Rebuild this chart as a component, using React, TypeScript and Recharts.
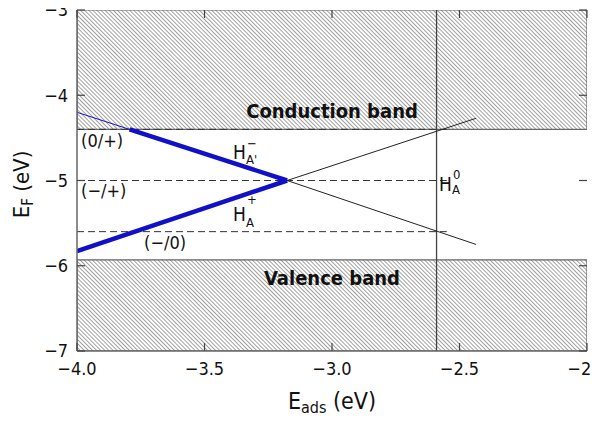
import React from 'react';
import {
  ComposedChart,
  Line,
  XAxis,
  YAxis,
  ReferenceArea,
  ReferenceLine,
  ReferenceDot,
} from 'recharts';

// ---- data ----
const xTicks = [-4, -3.5, -3, -2.5, -2];
const yTicks = [-7, -6, -5, -4, -3];
const xDomain = [-4, -2];
const yDomain = [-7, -3];
const conductionBand = [-4.4, -3];
const valenceBand = [-7, -5.93];
const transitionLevels = [-4.4, -5.0, -5.6];
const levelExtent = [-4, -2.55];
const neutralX = -2.59;

const hMinusThin = [
  { x: -4, y: -4.2 },
  { x: -3.794, y: -4.4 },
];
const hMinusThick = [
  { x: -3.794, y: -4.4 },
  { x: -3.176, y: -5.0 },
];
const hPlusThick = [
  { x: -4, y: -5.827 },
  { x: -3.176, y: -5.0 },
];
const hPlusExt = [
  { x: -3.176, y: -5.0 },
  { x: -2.435, y: -4.27 },
];
const hMinusExt = [
  { x: -3.176, y: -5.0 },
  { x: -2.435, y: -5.75 },
];

const levelLabels = [
  { x: -3.984, y: -4.607, text: '(0/+)' },
  { x: -3.984, y: -5.193, text: '(−/+)' },
  { x: -3.737, y: -5.804, text: '(−/0)' },
];
const bandLabels = [
  { x: -3.0, y: -4.267, text: 'Conduction band' },
  { x: -3.0, y: -6.226, text: 'Valence band' },
];
const hLabels = [
  { x: -3.388, y: -4.748, sup: '−', sub: "A'", supDy: -11, subDy: 5 },
  { x: -3.388, y: -5.475, sup: '+', sub: 'A', supDy: -17, subDy: 6 },
  { x: -2.58, y: -5.123, sup: '0', sub: 'A', supDy: -12, subDy: 3 },
];

const FONT = "'DejaVu Sans Condensed', 'DejaVu Sans', sans-serif";
const INK = '#111';
const FRAME = '#666';
const TICK_LEN = 8;

const fmtX = (v: number) => v.toFixed(1).replace('-', '−');
const fmtY = (v: number) => String(v).replace('-', '−');

const levelSeries = transitionLevels.map((lv) => [
  { x: levelExtent[0], y: lv },
  { x: levelExtent[1], y: lv },
]);

// inward tick marks on all four sides
const tickMarks = [
  ...xTicks.map((v) => ({ x: v, y: yDomain[0], dx: 0, dy: -1 })),
  ...xTicks.map((v) => ({ x: v, y: yDomain[1], dx: 0, dy: 1 })),
  ...yTicks.map((v) => ({ x: xDomain[0], y: v, dx: 1, dy: 0 })),
  ...yTicks.map((v) => ({ x: xDomain[1], y: v, dx: -1, dy: 0 })),
];

const XLabel = (props: any) => {
  const vb = props.viewBox || {};
  const cx = vb.x + vb.width / 2;
  return (
    <text x={cx} y={vb.y + 58} textAnchor="middle" fontFamily={FONT} fontSize={23} fill={INK}>
      E
      <tspan fontSize={16} dy={4}>ads</tspan>
      <tspan dy={-4}> (eV)</tspan>
    </text>
  );
};

const YLabel = (props: any) => {
  const vb = props.viewBox || {};
  const cy = vb.y + vb.height / 2;
  return (
    <text
      x={0}
      y={0}
      transform={`translate(21, ${cy + 4}) rotate(-90)`}
      textAnchor="middle"
      fontFamily={FONT}
      fontSize={22}
      fill={INK}
    >
      E
      <tspan fontSize={15} dy={4}>F</tspan>
      <tspan dy={-4}> (eV)</tspan>
    </text>
  );
};

const lineCommon = {
  dataKey: 'y',
  dot: false,
  activeDot: false,
  isAnimationActive: false,
  legendType: 'none' as const,
};

export default function App() {
  return (
    <div style={{ marginTop: -8 }}>
      <ComposedChart
        width={600}
        height={421}
        margin={{ top: 10, right: 21, bottom: 0, left: 0 }}
        style={{ fontFamily: FONT }}
      >
        <defs>
          <pattern
            id="hatch"
            patternUnits="userSpaceOnUse"
            width={2.9}
            height={2.9}
            patternTransform="rotate(-45)"
          >
            <rect width={2.9} height={2.9} fill="#fff" />
            <line x1={0} y1={0} x2={0} y2={2.9} stroke="#444" strokeWidth={1} />
          </pattern>
        </defs>
        <XAxis
          xAxisId={0}
          type="number"
          dataKey="x"
          domain={xDomain}
          ticks={xTicks}
          interval={0}
          tickFormatter={fmtX}
          allowDataOverflow
          height={70}
          tickSize={0}
          tickMargin={11}
          tickLine={false}
          stroke={FRAME}
          strokeWidth={1.5}
          tick={{ fill: INK, fontSize: 18, fontFamily: FONT }}
          label={<XLabel />}
        />
        <XAxis
          xAxisId="top"
          orientation="top"
          type="number"
          dataKey="x"
          domain={xDomain}
          ticks={xTicks}
          allowDataOverflow
          height={0}
          tickLine={false}
          tick={false}
          stroke={FRAME}
          strokeWidth={1.5}
        />
        <YAxis
          yAxisId={0}
          type="number"
          dataKey="y"
          domain={yDomain}
          ticks={yTicks}
          interval={0}
          tickFormatter={fmtY}
          allowDataOverflow
          width={69}
          tickSize={0}
          tickMargin={9}
          tickLine={false}
          stroke={FRAME}
          strokeWidth={1.5}
          tick={{ fill: INK, fontSize: 18, fontFamily: FONT }}
          label={<YLabel />}
        />
        <YAxis
          yAxisId="right"
          orientation="right"
          type="number"
          dataKey="y"
          domain={yDomain}
          ticks={yTicks}
          allowDataOverflow
          width={0}
          tickLine={false}
          tick={false}
          stroke={FRAME}
          strokeWidth={1.5}
        />

        <ReferenceArea
          y1={conductionBand[0]}
          y2={conductionBand[1]}
          x1={xDomain[0]}
          x2={xDomain[1]}
          fill="url(#hatch)"
          fillOpacity={1}
          stroke={FRAME}
          strokeWidth={1.2}
          ifOverflow="hidden"
        />
        <ReferenceArea
          y1={valenceBand[0]}
          y2={valenceBand[1]}
          x1={xDomain[0]}
          x2={xDomain[1]}
          fill="url(#hatch)"
          fillOpacity={1}
          stroke={FRAME}
          strokeWidth={1.2}
          ifOverflow="hidden"
        />

        {levelSeries.map((d, i) => (
          <Line key={'lv' + i} data={d} {...lineCommon} stroke="#333" strokeWidth={1} strokeDasharray="7 4" />
        ))}

        <ReferenceLine x={neutralX} stroke="#444" strokeWidth={1.3} />

        <Line data={hPlusExt} {...lineCommon} stroke="#222" strokeWidth={1} />
        <Line data={hMinusExt} {...lineCommon} stroke="#222" strokeWidth={1} />
        <Line data={hMinusThin} {...lineCommon} stroke="#1010c8" strokeWidth={1} />
        <Line data={hMinusThick} {...lineCommon} stroke="#1010c8" strokeWidth={4.5} />
        <Line data={hPlusThick} {...lineCommon} stroke="#1010c8" strokeWidth={4.5} />

        {tickMarks.map((t, i) => (
          <ReferenceDot
            key={'t' + i}
            x={t.x}
            y={t.y}
            r={0}
            ifOverflow="visible"
            shape={(p: any) => (
              <line
                x1={p.cx}
                y1={p.cy}
                x2={p.cx + t.dx * TICK_LEN}
                y2={p.cy + t.dy * TICK_LEN}
                stroke="#444"
                strokeWidth={1.2}
              />
            )}
          />
        ))}

        {bandLabels.map((b, i) => (
          <ReferenceDot
            key={'b' + i}
            x={b.x}
            y={b.y}
            r={0}
            shape={(p: any) => (
              <text x={p.cx} y={p.cy} textAnchor="middle" fontFamily={FONT} fontWeight="bold" fontSize={20} fill={INK}>
                {b.text}
              </text>
            )}
          />
        ))}
        {levelLabels.map((b, i) => (
          <ReferenceDot
            key={'l' + i}
            x={b.x}
            y={b.y}
            r={0}
            shape={(p: any) => (
              <text x={p.cx} y={p.cy} textAnchor="start" fontFamily={FONT} fontSize={18} fill={INK}>
                {b.text}
              </text>
            )}
          />
        ))}
        {hLabels.map((h, i) => (
          <ReferenceDot
            key={'h' + i}
            x={h.x}
            y={h.y}
            r={0}
            shape={(p: any) => (
              <g fontFamily={FONT} fill={INK}>
                <text x={p.cx} y={p.cy} fontSize={19}>H</text>
                <text x={p.cx + 14} y={p.cy + h.supDy} fontSize={13}>{h.sup}</text>
                <text x={p.cx + 13} y={p.cy + h.subDy} fontSize={13}>{h.sub}</text>
              </g>
            )}
          />
        ))}
      </ComposedChart>
    </div>
  );
}
